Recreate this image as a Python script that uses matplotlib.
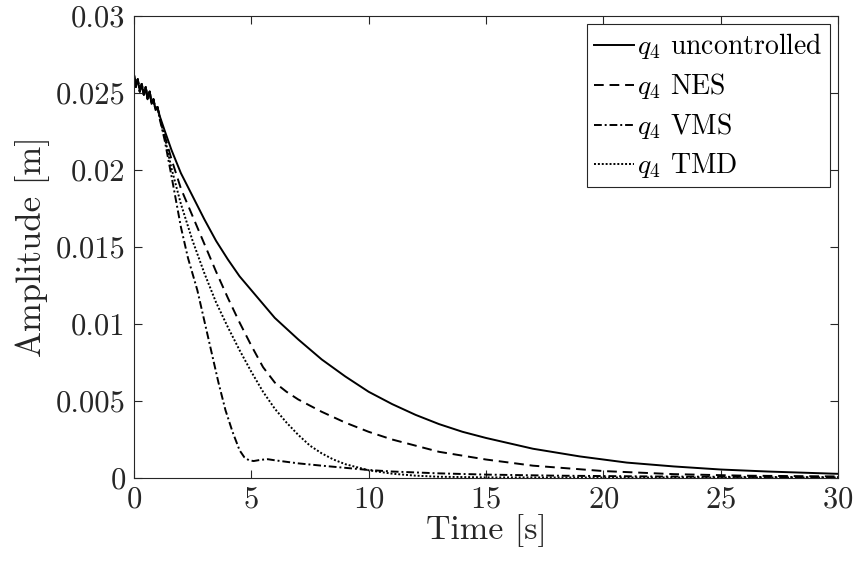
import numpy as np
import matplotlib.pyplot as plt

plt.rcParams['font.family'] = 'serif'
plt.rcParams['font.serif'] = ['cmr10', 'DejaVu Serif']
plt.rcParams['mathtext.fontset'] = 'cm'
plt.rcParams['axes.formatter.use_mathtext'] = True

# early oscillating part (shared by all responses)
t_start = [0.0, 0.08, 0.16, 0.25, 0.33, 0.42, 0.5, 0.58, 0.67, 0.75, 0.83, 0.92, 1.0]
q_start = [0.0262, 0.0254, 0.0259, 0.0251, 0.0256, 0.0249, 0.0254, 0.0246, 0.0251, 0.0243, 0.0246, 0.0239, 0.0241]

# uncontrolled
t_unc = [1.1, 1.3, 1.6, 2.0, 2.5, 3.0, 3.5, 4.0, 4.5, 5.0, 5.5, 6.0, 7.0, 8.0, 9.0, 10.0,
         11.0, 12.0, 13.0, 14.0, 15.0, 17.0, 19.0, 21.0, 23.0, 25.0, 27.0, 30.0]
q_unc = [0.0235, 0.0226, 0.0213, 0.0198, 0.0183, 0.0168, 0.0154, 0.0142, 0.0131, 0.0122,
         0.0113, 0.0104, 0.0090, 0.0077, 0.0066, 0.0056, 0.0048, 0.0041, 0.0035, 0.0030,
         0.0026, 0.0019, 0.0014, 0.0010, 0.00075, 0.00055, 0.00042, 0.00027]

# NES
t_nes = [1.1, 1.3, 1.6, 2.0, 2.5, 3.0, 3.5, 4.0, 4.5, 5.0, 5.5, 6.0, 6.5, 7.0, 8.0, 9.0,
         10.0, 11.0, 12.0, 13.0, 15.0, 17.0, 20.0, 23.0, 26.0, 30.0]
q_nes = [0.0234, 0.0223, 0.0207, 0.0188, 0.0170, 0.0152, 0.0134, 0.0117, 0.0101, 0.0086,
         0.0072, 0.0062, 0.0056, 0.0051, 0.0043, 0.0036, 0.0030, 0.0025, 0.0021, 0.0017,
         0.0012, 0.0008, 0.00045, 0.00025, 0.00015, 0.0001]

# VMS
t_vms = [1.1, 1.3, 1.6, 2.0, 2.3, 2.7, 3.0, 3.3, 3.6, 3.9, 4.2, 4.5, 4.7, 4.9, 5.1, 5.4,
         5.7, 6.0, 7.0, 8.0, 9.0, 10.0, 11.0, 13.0, 15.0, 18.0, 22.0, 26.0, 30.0]
q_vms = [0.0233, 0.0220, 0.0196, 0.0163, 0.0143, 0.0122, 0.0102, 0.0082, 0.0062, 0.0044,
         0.0030, 0.0018, 0.00135, 0.00115, 0.0011, 0.00118, 0.00122, 0.00115, 0.00095,
         0.0008, 0.00066, 0.00052, 0.00042, 0.0003, 0.00022, 0.00015, 0.0001, 0.00007, 0.00005]

# TMD
t_tmd = [1.1, 1.3, 1.6, 2.0, 2.5, 3.0, 3.5, 4.0, 4.5, 5.0, 5.5, 6.0, 6.5, 7.0, 7.5, 8.0,
         8.5, 9.0, 9.5, 10.0, 11.0, 12.0, 13.0, 15.0, 20.0, 25.0, 30.0]
q_tmd = [0.0234, 0.0222, 0.0201, 0.0178, 0.0154, 0.0133, 0.0114, 0.0098, 0.0083, 0.0069,
         0.0056, 0.0045, 0.0036, 0.0028, 0.0021, 0.0016, 0.0012, 0.0009, 0.0007, 0.0005,
         0.00028, 0.00015, 0.00008, 0.00004, 0.00003, 0.00003, 0.00003]

series = [
    (t_unc, q_unc, '-', r'$q_4$ uncontrolled'),
    (t_nes, q_nes, (0, (5, 3)), r'$q_4$ NES'),
    (t_vms, q_vms, (0, (4, 1.5, 1, 1.5)), r'$q_4$ VMS'),
    (t_tmd, q_tmd, (0, (1, 1)), r'$q_4$ TMD'),
]

fig = plt.figure(figsize=(8.56, 5.66), dpi=100)
ax = fig.add_axes([0.1565, 0.1555, 0.8225, 0.816])

for t, q, ls, lab in series:
    ax.plot(t_start + t, q_start + q, color='k', linestyle=ls, linewidth=1.4, label=lab)

ax.set_xlim(0, 30)
ax.set_ylim(0, 0.03)
ax.set_xticks([0, 5, 10, 15, 20, 25, 30])
ax.set_yticks([0, 0.005, 0.01, 0.015, 0.02, 0.025, 0.03])
ax.set_yticklabels(['0', '0.005', '0.01', '0.015', '0.02', '0.025', '0.03'])
ax.tick_params(direction='in', top=True, right=True, length=6, width=0.8,
               labelsize=22, colors='#262626', pad=6)
for s in ax.spines.values():
    s.set_color('#262626')
    s.set_linewidth(0.8)

ax.set_xlabel('Time [s]', fontsize=24.5, color='#262626', labelpad=0)
ax.set_ylabel('Amplitude [m]', fontsize=25, color='#262626', labelpad=4)

leg = ax.legend(loc='upper right', fontsize=20, handlelength=1.45, handletextpad=0.1,
                borderpad=0.25, labelspacing=0.36, borderaxespad=0.3, fancybox=False,
                framealpha=1)
leg.get_frame().set_edgecolor('#262626')
leg.get_frame().set_linewidth(0.8)

fig.savefig('out.png', dpi=100)
